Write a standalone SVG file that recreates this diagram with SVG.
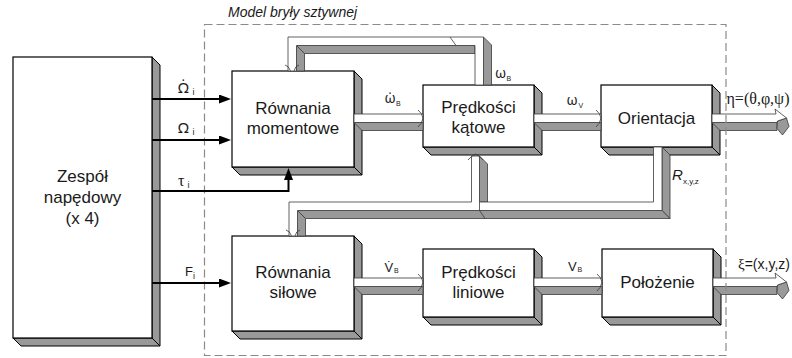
<svg xmlns="http://www.w3.org/2000/svg" width="792" height="358" viewBox="0 0 792 358">
  <style>
    .front { fill: #ffffff; stroke: #000000; stroke-width: 1.2; }
    .side { fill: #999999; stroke: #000000; stroke-width: 1; stroke-linejoin: round; }
    .pf { fill: #ffffff; stroke: #3a3a3a; stroke-width: 0.8; }
    .ps { fill: #999999; stroke: #3a3a3a; stroke-width: 0.8; stroke-linejoin: round; }
    .seam { fill: none; stroke: #3a3a3a; stroke-width: 0.8; }
    .tip { fill: none; stroke: #3a3a3a; stroke-width: 0.8; }
    .wire { fill: none; stroke: #000000; stroke-width: 2; }
    .frame { fill: none; stroke: #8a8a8a; stroke-width: 1.2; stroke-dasharray: 8 4; }
    .blk { font-family: "Liberation Sans", Arial, sans-serif; font-size: 17px; fill: #1a1a1a; text-anchor: middle; }
    .title { font-family: "Liberation Sans", Arial, sans-serif; font-size: 14px; font-style: italic; fill: #1a1a1a; }
    .gk { font-family: "Liberation Serif", "DejaVu Serif", serif; font-size: 16px; fill: #1a1a1a; }
    .gkd { font-family: "Noto Sans", "DejaVu Sans", sans-serif; font-size: 15px; fill: #1a1a1a; }
    .gkw { font-family: "Noto Sans", "DejaVu Sans", sans-serif; font-size: 14px; fill: #1a1a1a; }
    .sans { font-family: "Liberation Sans", Arial, sans-serif; font-size: 13px; fill: #1a1a1a; }
    .sub { font-family: "Liberation Sans", Arial, sans-serif; font-size: 9px; }
    .subs { font-family: "Liberation Sans", Arial, sans-serif; font-size: 7px; }
    .rsub { font-family: "Liberation Sans", Arial, sans-serif; font-size: 8px; font-style: normal; }
  </style>
  <defs>
    <marker id="arr" markerUnits="userSpaceOnUse" markerWidth="12" markerHeight="10" refX="1" refY="4.5" orient="auto">
      <path d="M0,0 L12,4.5 L0,9 Z" fill="#000000"/>
    </marker>
  </defs>

  <rect width="792" height="358" fill="#ffffff"/>

  <!-- blocks: white front face with grey right and bottom faces -->
  <g id="zespol">
    <polygon class="side" points="152,57 160,65 160,346 152,338"/>
    <polygon class="side" points="13,338 152,338 160,346 21,346"/>
    <rect class="front" x="13" y="57" width="139" height="281"/>
    <text class="blk" x="82.5" y="182">Zespół</text>
    <text class="blk" x="82.5" y="203">napędowy</text>
    <text class="blk" x="82.5" y="224">(x 4)</text>
  </g>

  <g id="rownania-momentowe">
    <polygon class="side" points="354,71 362,79 362,175 354,167"/>
    <polygon class="side" points="232,167 354,167 362,175 240,175"/>
    <rect class="front" x="232" y="71" width="122" height="96"/>
    <text class="blk" x="293" y="114">Równania</text>
    <text class="blk" x="293" y="134">momentowe</text>
  </g>

  <g id="predkosci-katowe">
    <polygon class="side" points="534,85 542,93 542,155 534,147"/>
    <polygon class="side" points="423,147 534,147 542,155 431,155"/>
    <rect class="front" x="423" y="85" width="111" height="62"/>
    <text class="blk" x="478.5" y="113">Prędkości</text>
    <text class="blk" x="478.5" y="133">kątowe</text>
  </g>

  <g id="orientacja">
    <polygon class="side" points="712,85 720,93 720,155 712,147"/>
    <polygon class="side" points="601,147 712,147 720,155 609,155"/>
    <rect class="front" x="601" y="85" width="111" height="62"/>
    <text class="blk" x="656.5" y="124">Orientacja</text>
  </g>

  <g id="rownania-silowe">
    <polygon class="side" points="354,236 362,244 362,339 354,331"/>
    <polygon class="side" points="232,331 354,331 362,339 240,339"/>
    <rect class="front" x="232" y="236" width="122" height="95"/>
    <text class="blk" x="293" y="278">Równania</text>
    <text class="blk" x="293" y="298">siłowe</text>
  </g>

  <g id="predkosci-liniowe">
    <polygon class="side" points="534,249 542,257 542,325 534,317"/>
    <polygon class="side" points="423,317 534,317 542,325 431,325"/>
    <rect class="front" x="423" y="249" width="111" height="68"/>
    <text class="blk" x="478.5" y="278">Prędkości</text>
    <text class="blk" x="478.5" y="298">liniowe</text>
  </g>

  <g id="polozenie">
    <polygon class="side" points="713,249 721,257 721,325 713,317"/>
    <polygon class="side" points="602,317 713,317 721,325 610,325"/>
    <rect class="front" x="602" y="249" width="111" height="68"/>
    <text class="blk" x="657.5" y="288">Położenie</text>
  </g>

  <!-- connectors -->
  <g id="connectors">
    <!-- 3D pipes, upper row -->
    <g id="pipe-omega-dot">
      <polygon class="ps" points="354,122.5 423,122.5 423,130.5 362,130.5"/>
      <rect class="pf" x="354" y="114" width="69" height="8.5"/>
      <path class="tip" d="M418,110 Q422,113 423,118 Q422,124 418,127"/>
    </g>
    <g id="pipe-omega-v">
      <polygon class="ps" points="534,122.5 601,122.5 601,130.5 542,130.5"/>
      <rect class="pf" x="534" y="114" width="67" height="8.5"/>
      <path class="tip" d="M596,110 Q600,113 601,118 Q600,124 596,127"/>
    </g>
    <g id="pipe-eta">
      <polygon class="ps" points="712,122.5 777,122.5 777,130.5 720,130.5"/>
      <polygon class="ps" points="777.5,121 786.5,118 789,126.5 782.5,135 777,128.5"/>
      <polygon class="pf" points="712,114 776,114 775,109 786.5,118 777.5,121 777,122.5 712,122.5"/>
    </g>

    <!-- 3D pipes, lower row -->
    <g id="pipe-v-dot">
      <polygon class="ps" points="354,286.5 423,286.5 423,294.5 362,294.5"/>
      <rect class="pf" x="354" y="278" width="69" height="8.5"/>
      <path class="tip" d="M418,274 Q422,277 423,282 Q422,288 418,291"/>
    </g>
    <g id="pipe-v">
      <polygon class="ps" points="534,286.5 602,286.5 602,294.5 542,294.5"/>
      <rect class="pf" x="534" y="278" width="68" height="8.5"/>
      <path class="tip" d="M597,274 Q601,277 602,282 Q601,288 597,291"/>
    </g>
    <g id="pipe-xi">
      <polygon class="ps" points="713,286.5 777,286.5 777,294.5 721,294.5"/>
      <polygon class="ps" points="777.5,285 786.5,282 789,290.5 782.5,299 777,292.5"/>
      <polygon class="pf" points="713,278 776,278 775,273 786.5,282 777.5,285 777,286.5 713,286.5"/>
    </g>

    <!-- angular velocity feedback loop over the top -->
    <g id="pipe-omega-b">
      <polygon class="ps" points="483.5,37 491.5,45 491.5,85 483.5,85"/>
      <polygon class="ps" points="296.5,45.5 475,45.5 475,53.5 304.5,53.5"/>
      <polygon class="ps" points="296.5,45.5 304.5,53.5 304.5,71 296.5,71"/>
      <polygon class="pf" points="288,71 288,37 483.5,37 483.5,85 475,85 475,45.5 296.5,45.5 296.5,71"/>
      <path class="seam" d="M450,37 L456,45.5"/>
      <path class="tip" d="M285,65 Q289,66 290.5,71 M299,65 Q295,66 294,71"/>
    </g>

    <!-- rotation matrix feedback with branch -->
    <g id="pipe-r">
      <polygon class="ps" points="662,147 670,155 670,218.5 662,210.5"/>
      <polygon class="ps" points="297.5,210.5 662,210.5 670,218.5 305.5,218.5"/>
      <polygon class="ps" points="297.5,210.5 305.5,218.5 305.5,236 297.5,236"/>
      <polygon class="ps" points="479.5,156 487.5,164 487.5,202 479.5,202"/>
      <polygon class="pf" points="653.5,147 662,147 662,210.5 297.5,210.5 297.5,236 289,236 289,202 471.5,202 471.5,156 479.5,156 479.5,202 653.5,202"/>
      <path class="seam" d="M479.5,202 V210.5 L485,218.5"/>
      <path class="tip" d="M468,160 Q471,156 475.5,154 Q480,156 483,160"/>
      <path class="tip" d="M286,230 Q290,231 291.5,236 M300,230 Q296,231 295,236"/>
    </g>
  </g>

  <!-- subsystem boundary -->
  <rect class="frame" x="204.5" y="24.5" width="521.5" height="331"/>
  <text class="title" x="228" y="17">Model bryły sztywnej</text>

  <!-- drive unit outputs -->
  <g id="drive-wires">
    <path class="wire" d="M152,99 H220" marker-end="url(#arr)"/>
    <path class="wire" d="M152,140 H220" marker-end="url(#arr)"/>
    <path class="wire" d="M152,191 H288.5 V179" marker-end="url(#arr)"/>
    <path class="wire" d="M152,283 H220" marker-end="url(#arr)"/>
  </g>

  <!-- signal labels (dots over symbols use U+0307) -->
  <g id="labels">
    <text class="gkd" x="178" y="93">Ω̇<tspan class="sub" x="192.5" y="95">i</tspan></text>
    <text class="gkd" x="178" y="133">Ω<tspan class="sub" x="192.5" y="135">i</tspan></text>
    <text class="gk" x="178" y="186">τ<tspan class="sub" x="187.5" y="188">i</tspan></text>
    <text class="sans" x="185" y="276">F<tspan class="sub" x="193" y="279">i</tspan></text>

    <text class="gkw" x="384.5" y="103">ω̇<tspan class="subs" x="396" y="106">B</tspan></text>
    <text class="gkw" x="495" y="78">ω<tspan class="subs" x="506.5" y="80.5">B</tspan></text>
    <text class="gkw" x="566.5" y="105">ω<tspan class="subs" x="578.5" y="107.5">V</tspan></text>

    <text class="gk" x="726.5" y="104">η=(θ,φ,ψ)</text>

    <text x="672" y="180" style="font-family:'Liberation Sans',Arial,sans-serif;font-size:15px;font-style:italic;fill:#1a1a1a">R<tspan class="rsub" x="683" y="184">x,y,z</tspan></text>

    <text class="sans" x="384.5" y="272">V̇<tspan class="subs" x="394" y="273">B</tspan></text>
    <text class="sans" x="568" y="271">V<tspan class="subs" x="577.5" y="272">B</tspan></text>

    <text x="738" y="269" style="font-family:'Liberation Sans',Arial,sans-serif;font-size:14px;fill:#1a1a1a"><tspan style="font-family:'Liberation Serif',serif;font-size:15px">ξ</tspan>=(x,y,z)</text>
  </g>
</svg>
